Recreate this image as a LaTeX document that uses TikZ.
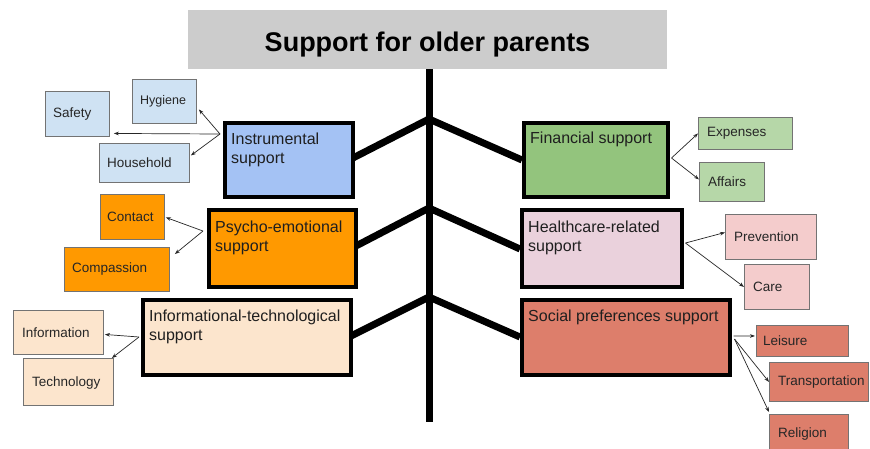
\documentclass[tikz,border=0pt]{standalone}
\usepackage{fontspec}
\setmainfont{Liberation Sans}
\usetikzlibrary{arrows.meta,calc}
\definecolor{cTitle}{HTML}{CCCCCC}
\definecolor{cInstr}{HTML}{A4C2F4}
\definecolor{cFin}{HTML}{93C47D}
\definecolor{cPsy}{HTML}{FF9900}
\definecolor{cHealth}{HTML}{EAD1DC}
\definecolor{cInfo}{HTML}{FCE5CD}
\definecolor{cSocial}{HTML}{DD7E6B}
\definecolor{sBlue}{HTML}{CFE2F3}
\definecolor{sGreen}{HTML}{B6D7A8}
\definecolor{sPink}{HTML}{F4CCCC}
\begin{document}
\begin{tikzpicture}[x=1pt,y=-1pt,
  mainbox/.style={draw=black, line width=3.5pt, anchor=north west, inner sep=0pt},
  maintext/.style={anchor=north west, inner sep=0pt, align=left, font=\fontsize{16}{19}\selectfont, text=black!88},
  sbox/.style={draw=black!55, line width=0.9pt, anchor=north west, inner sep=0pt},
  stext/.style={anchor=west, inner sep=0pt, font=\fontsize{13.5}{16}\selectfont, text=black!85},
  branch/.style={line width=7pt},
  conn/.style={line width=0.7pt, black!85, -{Stealth[length=5pt,width=3.6pt]}}]
\useasboundingbox (0,0) rectangle (870,448);
\clip (0,0) rectangle (870,448);
\fill[white] (0,0) rectangle (870,448);

% title
\node[fill=cTitle, anchor=north west, inner sep=0pt, minimum width=479pt, minimum height=59pt] (title) at (188,10) {};
\node[anchor=base, inner sep=0pt, font=\fontsize{27}{32}\selectfont\bfseries] (titleT) at (427.5,51) {Support for older parents};

% trunk and branches
\coordinate (trunkTop) at (429,69);
\coordinate (trunkBot) at (429,422);
\coordinate (j1) at (429,119);
\coordinate (j2) at (429,208);
\coordinate (j3) at (429,297);
\draw[line width=7pt] (trunkTop) -- (trunkBot);

% main boxes (positions)
\coordinate (instrP) at (223,121);
\coordinate (finP) at (522,121);
\coordinate (psyP) at (207,208);
\coordinate (healthP) at (520,208);
\coordinate (infoP) at (141,298);
\coordinate (socialP) at (520,298);

\draw[branch] ($(instrP)+(128,38)$) -- (j1) -- ($(finP)+(0,39)$);
\draw[branch] ($(psyP)+(147,39)$) -- (j2) -- ($(healthP)+(0,41)$);
\draw[branch] ($(infoP)+(208,39)$) -- (j3) -- ($(socialP)+(0,39)$);

\node[mainbox, fill=cInstr, minimum width=128pt, minimum height=74pt] (instr) at (instrP) {};
\node[mainbox, fill=cFin, minimum width=144pt, minimum height=74pt] (fin) at (finP) {};
\node[mainbox, fill=cPsy, minimum width=147pt, minimum height=77pt] (psy) at (psyP) {};
\node[mainbox, fill=cHealth, minimum width=160pt, minimum height=77pt] (health) at (healthP) {};
\node[mainbox, fill=cInfo, minimum width=208pt, minimum height=75pt] (info) at (infoP) {};
\node[mainbox, fill=cSocial, minimum width=208pt, minimum height=75pt] (social) at (socialP) {};

\node[maintext] (instrT) at ($(instr.north west)+(8,12)$) {Instrumental\\support};
\node[maintext] (finT) at ($(fin.north west)+(8,11)$) {Financial support};
\node[maintext] (psyT) at ($(psy.north west)+(8,13)$) {Psycho-emotional\\support};
\node[maintext] (healthT) at ($(health.north west)+(8,13)$) {Healthcare-related\\support};
\node[maintext] (infoT) at ($(info.north west)+(8,12)$) {Informational-technological\\support};
\node[maintext] (socialT) at ($(social.north west)+(8,12)$) {Social preferences support};

% small boxes
\node[sbox, fill=sBlue, minimum width=64pt, minimum height=45pt] (safety) at (45,91) {};
\node[sbox, fill=sBlue, minimum width=64pt, minimum height=44pt] (hyg) at (132,79) {};
\node[sbox, fill=sBlue, minimum width=90pt, minimum height=39pt] (house) at (99,143) {};
\node[sbox, fill=cPsy, minimum width=64pt, minimum height=45pt] (contact) at (100,194) {};
\node[sbox, fill=cPsy, minimum width=105pt, minimum height=44pt] (compassion) at (64,247) {};
\node[sbox, fill=cInfo, minimum width=90pt, minimum height=44pt] (information) at (13,310) {};
\node[sbox, fill=cInfo, minimum width=90pt, minimum height=47pt] (technology) at (23,358) {};
\node[sbox, fill=sGreen, minimum width=94pt, minimum height=32pt] (expenses) at (698,117) {};
\node[sbox, fill=sGreen, minimum width=65pt, minimum height=39pt] (affairs) at (699,162) {};
\node[sbox, fill=sPink, minimum width=91pt, minimum height=45pt] (prevention) at (725,214) {};
\node[sbox, fill=sPink, minimum width=65pt, minimum height=45pt] (care) at (744,264) {};
\node[sbox, fill=cSocial, minimum width=92pt, minimum height=31pt] (leisure) at (756,325) {};
\node[sbox, fill=cSocial, minimum width=99pt, minimum height=39pt] (transport) at (769,362) {};
\node[sbox, fill=cSocial, minimum width=79pt, minimum height=40pt] (religion) at (769,414) {};

\node[stext] (safetyT) at ($(safety.west)+(8,0)$) {Safety};
\node[stext, font=\fontsize{12.5}{15}\selectfont] (hygT) at ($(hyg.west)+(8,0)$) {Hygiene};
\node[stext] (houseT) at ($(house.west)+(8,0)$) {Household};
\node[stext] (contactT) at ($(contact.west)+(7,0)$) {Contact};
\node[stext] (compassionT) at ($(compassion.west)+(8,0)$) {Compassion};
\node[stext] (informationT) at ($(information.west)+(9,0)$) {Information};
\node[stext] (technologyT) at ($(technology.west)+(9,1)$) {Technology};
\node[stext] (expensesT) at ($(expenses.west)+(9,0)$) {Expenses};
\node[stext] (affairsT) at ($(affairs.west)+(9,0)$) {Affairs};
\node[stext] (preventionT) at ($(prevention.west)+(9,0)$) {Prevention};
\node[stext] (careT) at ($(care.west)+(9,0)$) {Care};
\node[stext] (leisureT) at ($(leisure.west)+(7,0)$) {Leisure};
\node[stext] (transportT) at ($(transport.west)+(9,0)$) {Transportation};
\node[stext] (religionT) at ($(religion.west)+(9,0)$) {Religion};

% connectors
\coordinate (instrA) at ($(instr.north west)+(-3,13)$);
\coordinate (psyA) at ($(psy.north west)+(-4,23)$);
\coordinate (infoA) at ($(info.north west)+(-2,39)$);
\coordinate (finA) at ($(fin.north east)+(2,37)$);
\coordinate (healthA) at ($(health.north east)+(2,35)$);
\coordinate (socialA) at ($(social.north east)+(2,38)$);
\coordinate (socialB) at ($(social.north east)+(3,41)$);

\draw[conn] (instrA) -- ($(hyg.east)+(2,8)$);
\draw[conn] (instrA) -- ($(safety.east)+(4,19.5)$);
\draw[conn] (instrA) -- ($(house.east)+(1,-7.5)$);
\draw[conn] (psyA) -- ($(contact.east)+(1,0.5)$);
\draw[conn] (psyA) -- ($(compassion.north east)+(5,7)$);
\draw[conn] (infoA) -- ($(information.east)+(1,2)$);
\draw[conn] (infoA) -- ($(technology.north east)+(-2,0)$);
\draw[conn] (finA) -- (expenses.west);
\draw[conn] (finA) -- ($(affairs.west)+(0,-2.5)$);
\draw[conn] (healthA) -- ($(prevention.west)+(0,-4.5)$);
\draw[conn] (healthA) -- (care.west);
\draw[conn] (socialA) -- ($(leisure.west)+(-1,-5)$);
\draw[conn] (socialB) -- (transport.west);
\draw[conn] (socialB) -- ($(religion.north west)+(0,-2)$);
\end{tikzpicture}
\end{document}
